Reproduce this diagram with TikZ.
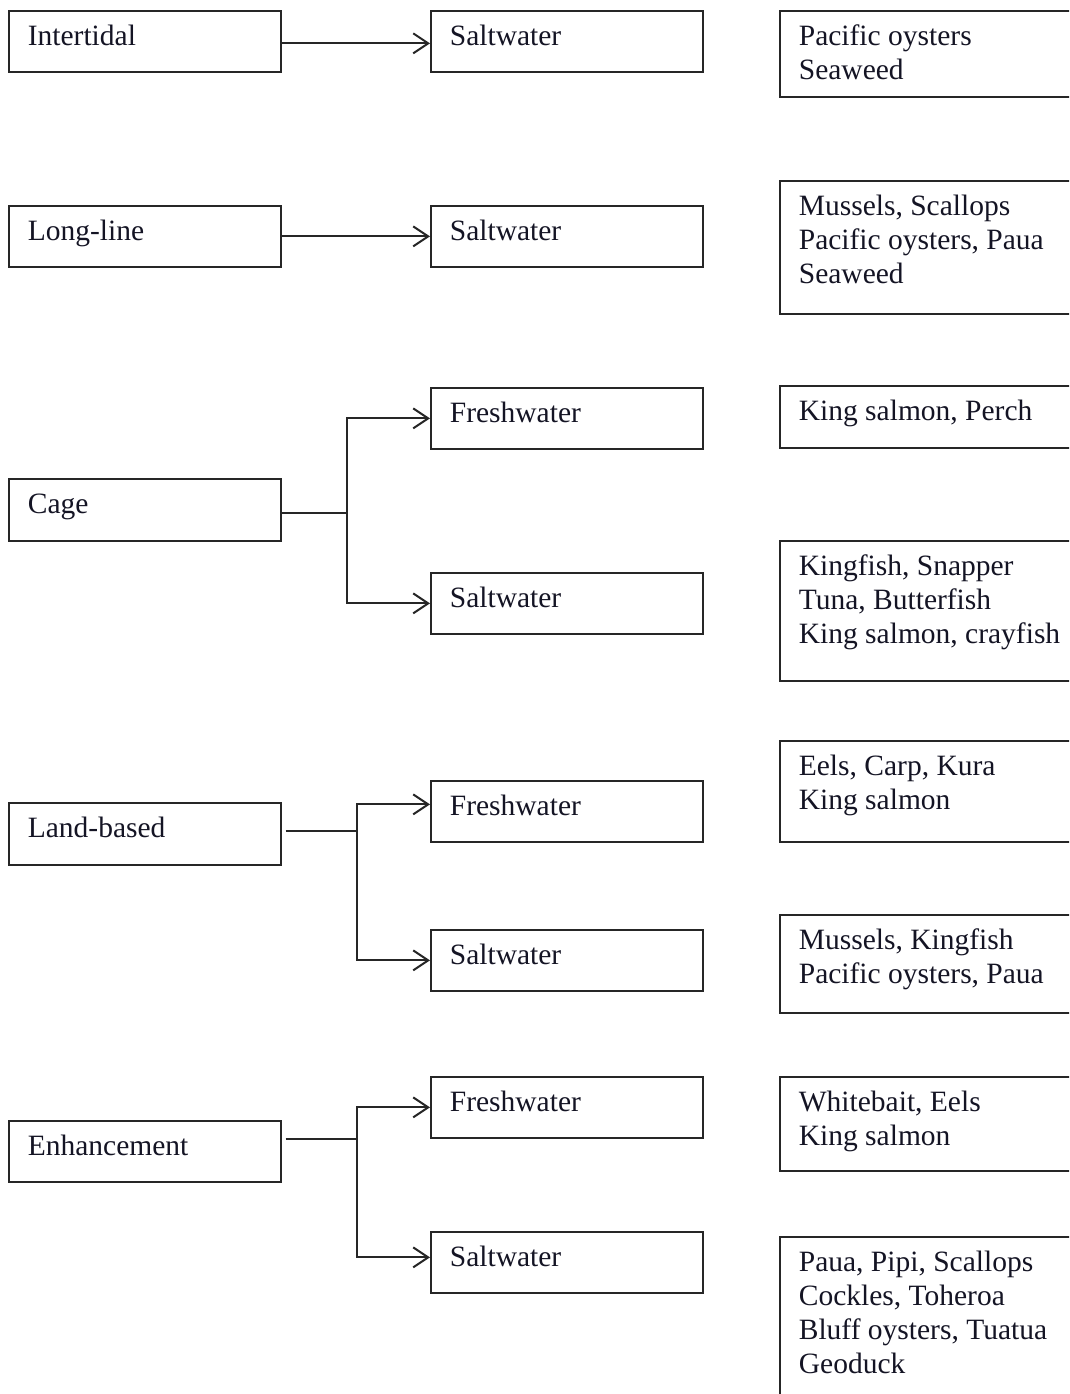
\documentclass[tikz,border=0pt]{standalone}
\usepackage{fontspec}
\setmainfont{Liberation Serif}
\usetikzlibrary{arrows.meta}
\definecolor{inkc}{rgb}{0.08,0.08,0.14}
\newcommand{\bt}[3]{\parbox[c][#1pt][t]{#2pt}{\raggedright\rule{0pt}{35pt}#3}}
\begin{document}
\begin{tikzpicture}[x=1pt,y=-1pt,
  box/.style={draw=black!85, line width=1.7pt, rectangle, inner xsep=19pt, inner ysep=0pt,
    anchor=north west, font=\fontsize{29.5}{34}\selectfont, text=inkc},
  conn/.style={draw=black!85, line width=2pt},
  arr/.style={conn, -{Straight Barb[length=15pt,width=20pt]}}]
\useasboundingbox (0,0) rectangle (1069,1394);
\clip (0,0) rectangle (1069,1394);
% left column
\node[box] (l1) at (8,10)   {\bt{61}{234}{Intertidal}};
\node[box] (l2) at (8,205)  {\bt{61}{234}{Long-line}};
\node[box] (l3) at (8,478)  {\bt{62}{234}{Cage}};
\node[box] (l4) at (8,802)  {\bt{62}{234}{Land-based}};
\node[box] (l5) at (8,1120) {\bt{61}{234}{Enhancement}};
% middle column
\node[box] (m1) at (430,10)   {\bt{61}{234}{Saltwater}};
\node[box] (m2) at (430,205)  {\bt{61}{234}{Saltwater}};
\node[box] (m3) at (430,387)  {\bt{61}{234}{Freshwater}};
\node[box] (m4) at (430,572)  {\bt{61}{234}{Saltwater}};
\node[box] (m5) at (430,780)  {\bt{61}{234}{Freshwater}};
\node[box] (m6) at (430,929)  {\bt{61}{234}{Saltwater}};
\node[box] (m7) at (430,1076) {\bt{61}{234}{Freshwater}};
\node[box] (m8) at (430,1231) {\bt{61}{234}{Saltwater}};
% right column
\node[box] (r1) at (779,10)   {\bt{86}{292}{Pacific oysters\\Seaweed}};
\node[box] (r2) at (779,180)  {\bt{133}{292}{Mussels, Scallops\\Pacific oysters, Paua\\Seaweed}};
\node[box] (r3) at (779,385)  {\bt{62}{292}{King salmon, Perch}};
\node[box] (r4) at (779,540)  {\bt{140}{292}{Kingfish, Snapper\\Tuna, Butterfish\\King salmon, crayfish}};
\node[box] (r5) at (779,740)  {\bt{101}{292}{Eels, Carp, Kura\\King salmon}};
\node[box] (r6) at (779,914)  {\bt{98}{292}{Mussels, Kingfish\\Pacific oysters, Paua}};
\node[box] (r7) at (779,1076) {\bt{94}{292}{Whitebait, Eels\\King salmon}};
\node[box] (r8) at (779,1236) {\bt{200}{292}{Paua, Pipi, Scallops\\Cockles, Toheroa\\Bluff oysters, Tuatua\\Geoduck}};
% connectors
\draw[arr] ([yshift=-2pt]l1.east) -- ([yshift=-2pt]m1.west);
\draw[arr] (l2.east) -- (m2.west);
\coordinate (j3) at (347,0);
\coordinate (j4) at (357,0);
\coordinate (j5) at (357,0);
\draw[conn] ([yshift=-3pt]l3.east) -- ([yshift=-3pt]l3.east -| j3);
\draw[arr] ([yshift=-3pt]l3.east -| j3) |- (m3.west);
\draw[arr] ([yshift=-3pt]l3.east -| j3) |- (m4.west);
\draw[conn] ([xshift=4pt,yshift=3pt]l4.east) -- ([yshift=3pt]l4.east -| j4);
\draw[arr] ([yshift=3pt]l4.east -| j4) |- ([yshift=7pt]m5.west);
\draw[arr] ([yshift=3pt]l4.east -| j4) |- (m6.west);
\draw[conn] ([xshift=4pt,yshift=12pt]l5.east) -- ([yshift=12pt]l5.east -| j5);
\draw[arr] ([yshift=12pt]l5.east -| j5) |- (m7.west);
\draw[arr] ([yshift=12pt]l5.east -| j5) |- ([yshift=5pt]m8.west);
\end{tikzpicture}
\end{document}
